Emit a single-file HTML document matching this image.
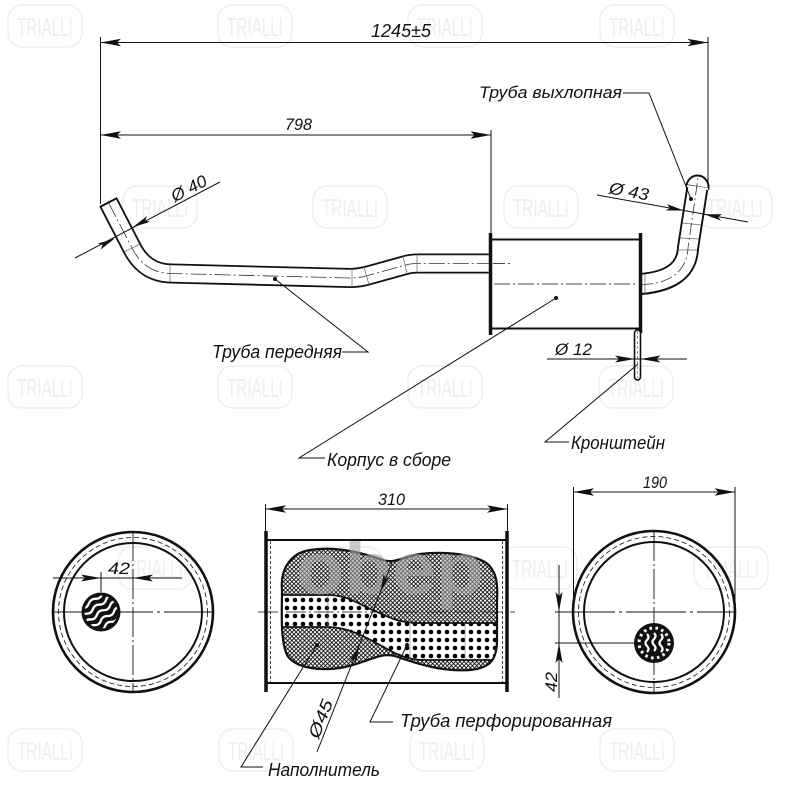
<!DOCTYPE html>
<html><head><meta charset="utf-8"><style>
html,body{margin:0;padding:0;background:#fff;}
svg{display:block;}
text{font-family:"Liberation Sans","DejaVu Sans",sans-serif;font-style:italic;fill:#111;}
.wm text{font-style:normal;fill:#efefef;}
</style></head><body>
<svg width="800" height="800" viewBox="0 0 800 800" xmlns="http://www.w3.org/2000/svg">
<defs>
<pattern id="xh" width="4.2" height="4.2" patternUnits="userSpaceOnUse"><path d="M0,0 L4.2,4.2 M4.2,0 L0,4.2" stroke="#000" stroke-width="0.85"/></pattern>
<pattern id="dots" width="8" height="8" patternUnits="userSpaceOnUse" x="283" y="596"><circle cx="4" cy="4" r="2.3" fill="#000"/></pattern>
<clipPath id="cl1"><circle cx="101" cy="612" r="16.5"/></clipPath>
<clipPath id="blob"><path d="M282,590 C280,570 290,553 310,550 C335,546 360,552 383,560 C395,564 405,556 420,554 C445,551 470,554 485,562 C497,570 498,585 497,600 L497,640 C497,660 490,668 470,670 C445,672 420,665 395,656 C380,652 368,662 345,667 C320,672 295,668 287,655 C280,640 282,610 282,590 Z"/></clipPath>
<g id="w1"><rect x="-37" y="-21" width="74" height="42" rx="14" fill="none" stroke="#eeeeee" stroke-width="1.5"/><text x="0" y="10" text-anchor="middle" font-size="26" textLength="56" lengthAdjust="spacingAndGlyphs" style="font-style:normal;fill:#efefef">TRIALLI</text></g>
</defs>
<rect width="800" height="800" fill="#fff"/>

<!-- watermarks -->
<g class="wm">
<use href="#w1" x="45" y="26"/><use href="#w1" x="255" y="26"/><use href="#w1" x="445" y="26"/><use href="#w1" x="637" y="26"/>
<use href="#w1" x="160" y="207"/><use href="#w1" x="350" y="207"/><use href="#w1" x="541" y="207"/><use href="#w1" x="735" y="207"/>
<use href="#w1" x="45" y="387"/><use href="#w1" x="255" y="387"/><use href="#w1" x="445" y="387"/><use href="#w1" x="636" y="387"/>
<use href="#w1" x="155" y="568"/><use href="#w1" x="345" y="568"/><use href="#w1" x="540" y="568"/><use href="#w1" x="731" y="568"/>
<use href="#w1" x="45" y="750"/><use href="#w1" x="256" y="750"/><use href="#w1" x="447" y="750"/><use href="#w1" x="637" y="750"/>
</g>

<!-- ===== TOP VIEW ===== -->
<g stroke="#111" stroke-width="1" fill="none">
<line x1="100.5" y1="37" x2="100.5" y2="204"/>
<line x1="708" y1="37" x2="708" y2="188"/>
<line x1="491" y1="130" x2="491" y2="233"/>
<line x1="100.5" y1="42.5" x2="708" y2="42.5"/>
<line x1="100.5" y1="135" x2="491" y2="135"/>
</g>
<g fill="#111">
<polygon points="100.5,42.5 121,38.8 117,42.5 121,46.2"/>
<polygon points="708,42.5 687.5,38.8 691.5,42.5 687.5,46.2"/>
<polygon points="100.5,135 121,131.3 117,135 121,138.7"/>
<polygon points="491,135 470.5,131.3 474.5,135 470.5,138.7"/>
</g>
<text x="371" y="37" font-size="18" textLength="60" lengthAdjust="spacingAndGlyphs">1245±5</text>
<text x="285" y="130" font-size="17" textLength="27" lengthAdjust="spacingAndGlyphs">798</text>

<!-- front pipe -->
<path d="M108.5,202.5 L132,248 Q145,273.5 172,273.5 L350,278 Q358,278 366,276 L404,265.5 Q410,263.5 418,263.5 L492,263.5" fill="none" stroke="#111" stroke-width="20" stroke-linejoin="round"/>
<path d="M108.5,202.5 L132,248 Q145,273.5 172,273.5 L350,278 Q358,278 366,276 L404,265.5 Q410,263.5 418,263.5 L494,263.5" fill="none" stroke="#fff" stroke-width="16.4" stroke-linejoin="round"/>
<line x1="99.8" y1="207" x2="117.2" y2="198" stroke="#111" stroke-width="2"/>
<path d="M108.5,202.5 L132,248 Q145,273.5 172,273.5 L350,278 Q358,278 366,276 L404,265.5 Q410,263.5 418,263.5 L513,263.5" fill="none" stroke="#333" stroke-width="0.8" stroke-dasharray="16 3 2 3"/>
<g stroke="#666" stroke-width="0.7">
<line x1="124" y1="252" x2="140" y2="244"/>
<line x1="170" y1="264.5" x2="170" y2="282.5"/>
<line x1="352" y1="269" x2="352" y2="287"/>
<line x1="364" y1="267" x2="369" y2="285"/>
<line x1="403" y1="256" x2="407" y2="274"/>
<line x1="417" y1="254.5" x2="417" y2="272.5"/>
</g>

<!-- exhaust pipe -->
<path d="M628,284.5 C668,284.5 687,272 688,248 L697.5,187" fill="none" stroke="#111" stroke-width="22"/>
<path d="M626,284.5 C668,284.5 687,272 688,248 L697.5,187" fill="none" stroke="#fff" stroke-width="18.2"/>
<path d="M686.6,185.3 A11,11.5 0 0 1 708.4,188.7 Z" fill="#fff" stroke="#111" stroke-width="2"/>
<line x1="687" y1="186" x2="708" y2="189" stroke="#fff" stroke-width="2"/>
<path d="M641,284.5 C668,284.5 687,272 688,248 L698,178" fill="none" stroke="#333" stroke-width="0.8" stroke-dasharray="12 3 2 3"/>
<g stroke="#666" stroke-width="0.7">
<line x1="645" y1="275" x2="645" y2="294"/>
<line x1="678" y1="250" x2="697" y2="250"/>
<line x1="680" y1="238" x2="699" y2="239"/>
<line x1="682" y1="223" x2="701" y2="225"/>
</g>

<!-- body -->
<rect x="490" y="239" width="150" height="90" fill="#fff"/>
<g stroke="#111" fill="none">
<line x1="490" y1="239.5" x2="640" y2="239.5" stroke-width="2"/>
<line x1="490" y1="328.5" x2="640" y2="328.5" stroke-width="2"/>
<line x1="490.5" y1="233" x2="490.5" y2="335" stroke-width="3.5"/>
<line x1="640.5" y1="233" x2="640.5" y2="333" stroke-width="3.5"/>
<line x1="494" y1="284" x2="638" y2="284" stroke-width="0.8" stroke-dasharray="16 3 2 3"/>
<line x1="493" y1="263.5" x2="513" y2="263.5" stroke-width="0.8" stroke-dasharray="12 3 2 3"/>
</g>
<rect x="634.5" y="330" width="6" height="50" rx="3" fill="#fff" stroke="#111" stroke-width="1.6"/>
<line x1="637.5" y1="331" x2="637.5" y2="378" stroke="#555" stroke-width="0.6" stroke-dasharray="3 2"/>

<!-- Ø40 -->
<line x1="75" y1="258" x2="220" y2="182" stroke="#111" stroke-width="1"/>
<polygon points="115,238.3 100.6,249.6 102.6,244.8 97.6,243.8" fill="#111"/>
<polygon points="132.7,227.3 150.1,221.8 145.1,220.8 147.1,216" fill="#111"/>
<text x="191.6" y="193.5" font-size="17" text-anchor="middle" textLength="38" lengthAdjust="spacingAndGlyphs" transform="rotate(-27.7 191.6 193.5)">Ø 40</text>

<!-- Ø43 -->
<line x1="597" y1="195" x2="748" y2="222" stroke="#111" stroke-width="1"/>
<polygon points="684,210.5 665.7,210.5 670.2,208 666.9,204.1" fill="#111"/>
<polygon points="704,214.2 721.1,220.6 717.8,216.7 722.3,214.2" fill="#111"/>
<text x="628" y="197" font-size="17" text-anchor="middle" textLength="40" lengthAdjust="spacingAndGlyphs" transform="rotate(10.2 628 197)">Ø 43</text>

<!-- Ø12 -->
<line x1="547" y1="359" x2="687" y2="359" stroke="#111" stroke-width="1"/>
<polygon points="635,359 615,355.5 619,359 615,362.5" fill="#111"/>
<polygon points="640.5,359 660.5,355.5 656.5,359 660.5,362.5" fill="#111"/>
<text x="555" y="355" font-size="17" textLength="37" lengthAdjust="spacingAndGlyphs">Ø 12</text>

<!-- leaders top -->
<g stroke="#111" stroke-width="1" fill="none">
<polyline points="623,93 649,93 691,199"/>
<polyline points="275,279 368,352 342,352"/>
<polyline points="556,298 299,458 325,458"/>
<polyline points="638,364 545,442 569,442"/>
</g>
<g fill="#111">
<circle cx="691" cy="199" r="2"/>
<circle cx="275" cy="279" r="2"/>
<circle cx="556" cy="298" r="2"/>
</g>
<text x="479" y="98" font-size="17" textLength="143" lengthAdjust="spacingAndGlyphs">Труба выхлопная</text>
<text x="212" y="358" font-size="18" textLength="130" lengthAdjust="spacingAndGlyphs">Труба передняя</text>
<text x="327" y="466" font-size="18" textLength="124" lengthAdjust="spacingAndGlyphs">Корпус в сборе</text>
<text x="571" y="449" font-size="18" textLength="94" lengthAdjust="spacingAndGlyphs">Кронштейн</text>

<!-- ===== LEFT END VIEW ===== -->
<g fill="none" stroke="#111">
<circle cx="133" cy="612" r="80" stroke-width="2.6"/>
<circle cx="133" cy="612" r="74.5" stroke-width="0.8" stroke-dasharray="5 3"/>
<circle cx="133" cy="612" r="69" stroke-width="2"/>
<line x1="133" y1="531" x2="133" y2="693" stroke-width="0.9" stroke-dasharray="30 3 2 3"/>
<line x1="53" y1="612" x2="214" y2="612" stroke-width="0.9" stroke-dasharray="100 4 3 4"/>
<line x1="53" y1="578" x2="182" y2="578" stroke-width="1"/>
<line x1="101" y1="572" x2="101" y2="592" stroke-width="1"/>
</g>
<polygon points="101,578 81,574.5 85,578 81,581.5" fill="#111"/>
<polygon points="133,578 153,574.5 149,578 153,581.5" fill="#111"/>
<text x="108" y="574" font-size="17" textLength="22" lengthAdjust="spacingAndGlyphs">42</text>
<circle cx="101" cy="612" r="19.5" fill="#111"/>
<g clip-path="url(#cl1)">
<g stroke="#fff" stroke-width="2.3" fill="none" transform="rotate(-35 101 612)">
<path d="M80,598 q4,-3 8,0 t8,0 t8,0 t8,0 t8,0"/>
<path d="M80,605 q4,-3 8,0 t8,0 t8,0 t8,0 t8,0"/>
<path d="M80,612 q4,-3 8,0 t8,0 t8,0 t8,0 t8,0"/>
<path d="M80,619 q4,-3 8,0 t8,0 t8,0 t8,0 t8,0"/>
<path d="M80,626 q4,-3 8,0 t8,0 t8,0 t8,0 t8,0"/>
</g>
</g>

<!-- ===== MIDDLE SECTION VIEW ===== -->
<g stroke="#111" fill="none">
<line x1="265.5" y1="504" x2="265.5" y2="531" stroke-width="1"/>
<line x1="507.5" y1="504" x2="507.5" y2="531" stroke-width="1"/>
<line x1="265.5" y1="509" x2="507.5" y2="509" stroke-width="1"/>
</g>
<polygon points="265.5,509 286,505.3 282,509 286,512.7" fill="#111"/>
<polygon points="507.5,509 487,505.3 491,509 487,512.7" fill="#111"/>
<text x="378" y="505" font-size="17" textLength="27" lengthAdjust="spacingAndGlyphs">310</text>

<path d="M282,590 C280,570 290,553 310,550 C335,546 360,552 383,560 C395,564 405,556 420,554 C445,551 470,554 485,562 C497,570 498,585 497,600 L497,640 C497,660 490,668 470,670 C445,672 420,665 395,656 C380,652 368,662 345,667 C320,672 295,668 287,655 C280,640 282,610 282,590 Z" fill="#fff"/>
<path d="M282,590 C280,570 290,553 310,550 C335,546 360,552 383,560 C395,564 405,556 420,554 C445,551 470,554 485,562 C497,570 498,585 497,600 L497,640 C497,660 490,668 470,670 C445,672 420,665 395,656 C380,652 368,662 345,667 C320,672 295,668 287,655 C280,640 282,610 282,590 Z" fill="url(#xh)"/>
<g clip-path="url(#blob)">
<path d="M280,595 L330,595 C350,596 360,605 375,611 C390,618 400,623 420,623 L500,623 L500,660 L425,660 C405,660 392,652 380,645 C365,637 350,628 330,627 L280,627 Z" fill="#fff"/>
<path d="M280,595 L330,595 C350,596 360,605 375,611 C390,618 400,623 420,623 L500,623 L500,660 L425,660 C405,660 392,652 380,645 C365,637 350,628 330,627 L280,627 Z" fill="url(#dots)" stroke="#111" stroke-width="1.8"/>
<g stroke="#777" stroke-width="0.6">
<line x1="328" y1="595" x2="328" y2="627"/>
<line x1="410" y1="620" x2="410" y2="660"/>
<line x1="465" y1="623" x2="465" y2="660"/>
</g>
</g>
<path d="M282,590 C280,570 290,553 310,550 C335,546 360,552 383,560 C395,564 405,556 420,554 C445,551 470,554 485,562 C497,570 498,585 497,600 L497,640 C497,660 490,668 470,670 C445,672 420,665 395,656 C380,652 368,662 345,667 C320,672 295,668 287,655 C280,640 282,610 282,590 Z" fill="none" stroke="#111" stroke-width="2.2"/>
<text x="296" y="594" font-size="74" font-weight="bold" textLength="188" lengthAdjust="spacingAndGlyphs" style="font-style:normal;fill:#a8a8a8;opacity:0.6">obep</text>

<g stroke="#111" fill="none">
<line x1="266" y1="540" x2="507" y2="540" stroke-width="2"/>
<line x1="266" y1="683" x2="507" y2="683" stroke-width="2"/>
<line x1="266" y1="531" x2="266" y2="692" stroke-width="3.5"/>
<line x1="507" y1="531" x2="507" y2="692" stroke-width="3.5"/>
<line x1="270.5" y1="541" x2="270.5" y2="682" stroke-width="0.8" stroke-dasharray="3 2"/>
<line x1="502.5" y1="541" x2="502.5" y2="682" stroke-width="0.8" stroke-dasharray="3 2"/>
<line x1="258" y1="612" x2="515" y2="612" stroke-width="0.8" stroke-dasharray="20 3 2 3"/>
</g>

<!-- Ø45 -->
<line x1="393" y1="560" x2="317" y2="752" stroke="#111" stroke-width="1"/>
<polygon points="380.3,592 390,576.5 385.5,579 383.8,574.1" fill="#111"/>
<polygon points="359.4,645 355.9,662.9 354.2,658 349.7,660.5" fill="#111"/>
<text x="326" y="721" font-size="17" text-anchor="middle" textLength="40" lengthAdjust="spacingAndGlyphs" transform="rotate(-68.4 326 721)">Ø45</text>

<g stroke="#111" stroke-width="1" fill="none">
<polyline points="317,645 241,767 263,767"/>
<polyline points="407,645 370,722 393,722"/>
</g>
<circle cx="317" cy="645" r="2" fill="#111"/>
<circle cx="407" cy="645" r="2" fill="#111"/>
<text x="268" y="776" font-size="18" textLength="112" lengthAdjust="spacingAndGlyphs">Наполнитель</text>
<text x="400" y="727" font-size="18" textLength="212" lengthAdjust="spacingAndGlyphs">Труба  перфорированная</text>

<!-- ===== RIGHT END VIEW ===== -->
<g fill="none" stroke="#111">
<circle cx="654" cy="612" r="81" stroke-width="2.6"/>
<circle cx="654" cy="612" r="75.5" stroke-width="0.8" stroke-dasharray="5 3"/>
<circle cx="654" cy="612" r="70" stroke-width="2"/>
<line x1="654" y1="531" x2="654" y2="693" stroke-width="0.9" stroke-dasharray="30 3 2 3"/>
<line x1="555" y1="612" x2="736" y2="612" stroke-width="0.9" stroke-dasharray="60 4 3 4"/>
<line x1="573.5" y1="487" x2="573.5" y2="611" stroke-width="1"/>
<line x1="735" y1="487" x2="735" y2="611" stroke-width="1"/>
<line x1="573.5" y1="492" x2="735" y2="492" stroke-width="1"/>
<line x1="555" y1="643" x2="635" y2="643" stroke-width="1"/>
<line x1="559" y1="565" x2="559" y2="698" stroke-width="1"/>
</g>
<polygon points="573.5,492 594,488.3 590,492 594,495.7" fill="#111"/>
<polygon points="735,492 714.5,488.3 718.5,492 714.5,495.7" fill="#111"/>
<polygon points="559,612 555.5,592 559,596 562.5,592" fill="#111"/>
<polygon points="559,643 555.5,663 559,659 562.5,663" fill="#111"/>
<text x="643" y="488" font-size="17" textLength="24" lengthAdjust="spacingAndGlyphs">190</text>
<text x="557" y="682" font-size="17" text-anchor="middle" textLength="20" lengthAdjust="spacingAndGlyphs" transform="rotate(-90 557 682)">42</text>
<circle cx="654" cy="643" r="20" fill="#111"/>
<circle cx="654" cy="643" r="15" fill="none" stroke="#fff" stroke-width="3" stroke-dasharray="2.5 3.5"/>
<g stroke="#fff" stroke-width="2.2" fill="none">
<path d="M647,634 q3,3 0,6 t0,6 t0,6"/>
<path d="M654,633 q3,3 0,6 t0,6 t0,6"/>
<path d="M661,634 q3,3 0,6 t0,6 t0,6"/>
</g>
</svg>
</body></html>
